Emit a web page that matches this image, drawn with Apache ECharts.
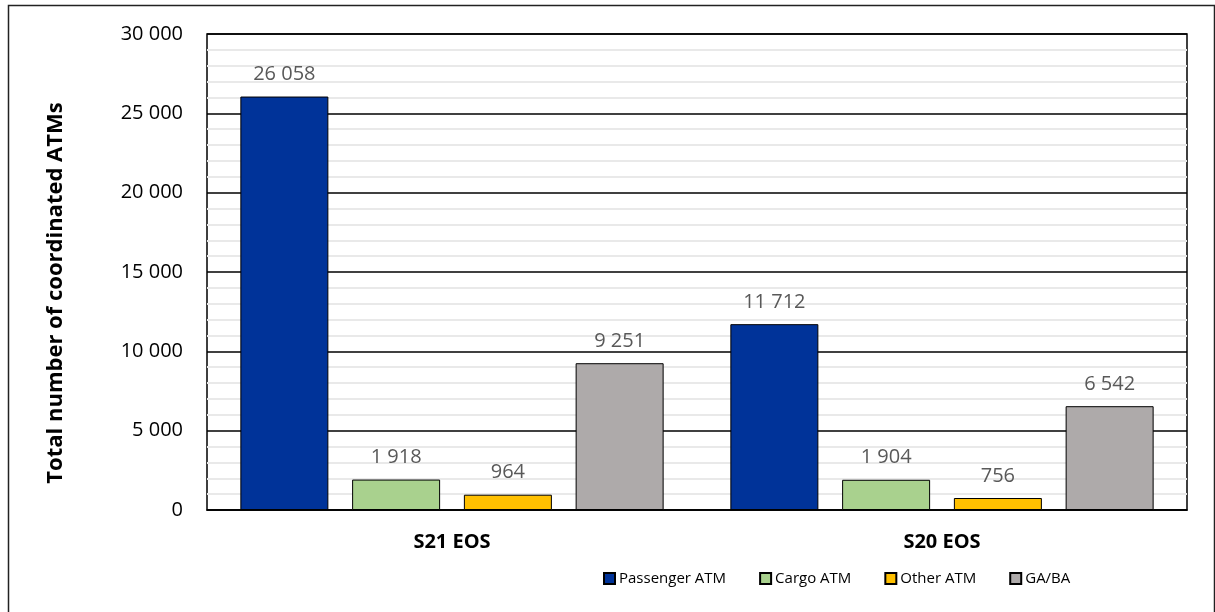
<!DOCTYPE html>
<html>
<head>
<meta charset="utf-8">
<script src="https://cdn.jsdelivr.net/npm/echarts@6/dist/echarts.min.js"></script>
<style>
html,body{margin:0;padding:0;background:#fff;}
#chart{width:1215px;height:612px;}
</style>
</head>
<body>
<div id="chart"></div>
<script>
const categories = ['S21 EOS', 'S20 EOS'];
const seriesNames = ['Passenger ATM', 'Cargo ATM', 'Other ATM', 'GA/BA'];
const passenger = [26058, 11712];
const cargo = [1918, 1904];
const other = [964, 756];
const gaba = [9251, 6542];
const yTicks = [0, 5000, 10000, 15000, 20000, 25000, 30000];

const colors = ['#003399', '#A9D18E', '#FFC000', '#AEAAAA'];
const values = [passenger, cargo, other, gaba];
const FONT = '"Open Sans", "Noto Sans", sans-serif';

function fmt(v) {
  return String(v).replace(/\B(?=(\d{3})+(?!\d))/g, ' ');
}

const chart = echarts.init(document.getElementById('chart'), null, {renderer: 'canvas'});
chart.setOption({
  animation: false,
  textStyle: {fontFamily: FONT},
  graphic: [{
    type: 'rect',
    shape: {x: 8.5, y: 5.5, width: 1206, height: 700},
    style: {fill: 'none', stroke: '#222', lineWidth: 1.5},
    silent: true, z: -10
  }],
  grid: {left: 207, right: 28, top: 34, bottom: 102, show: true, borderColor: '#000', borderWidth: 1.5, backgroundColor: 'transparent'},
  legend: {
    left: 598, top: 566,
    itemWidth: 11, itemHeight: 11, itemGap: 33,
    icon: 'rect',
    textStyle: {fontFamily: FONT, fontSize: 15, color: '#000', padding: [0, 0, 0, -1]},
    data: seriesNames
  },
  xAxis: {
    type: 'category',
    data: categories,
    axisLine: {show: true, lineStyle: {color: '#000', width: 1.5}},
    axisTick: {show: false},
    axisLabel: {fontFamily: FONT, fontSize: 20, fontWeight: 'bold', color: '#000', margin: 22}
  },
  yAxis: {
    type: 'value',
    min: yTicks[0], max: yTicks[yTicks.length - 1], interval: 5000,
    name: 'Total number of coordinated ATMs',
    nameLocation: 'middle', nameGap: 140, nameRotate: 90,
    nameTextStyle: {fontFamily: FONT, fontSize: 22, fontWeight: 'bold', color: '#000', padding: [0, 42, 0, 0]},
    axisLine: {show: false},
    axisTick: {show: false},
    axisLabel: {fontFamily: FONT, fontSize: 20, color: '#000', margin: 24, formatter: fmt},
    splitLine: {show: true, lineStyle: {color: '#000', width: 1.5}},
    minorTick: {show: false, splitNumber: 5},
    minorSplitLine: {show: true, lineStyle: {color: '#e9e9e9', width: 2}}
  },
  series: seriesNames.map((name, i) => ({
    name: name,
    type: 'bar',
    data: values[i],
    barWidth: 88,
    barGap: '27%',
    itemStyle: {color: colors[i], borderColor: '#000', borderWidth: 1},
    label: {
      show: true, position: 'top', distance: 12,
      fontFamily: FONT, fontSize: 20, color: '#595959',
      formatter: p => fmt(p.value)
    }
  }))
});
</script>
</body>
</html>
